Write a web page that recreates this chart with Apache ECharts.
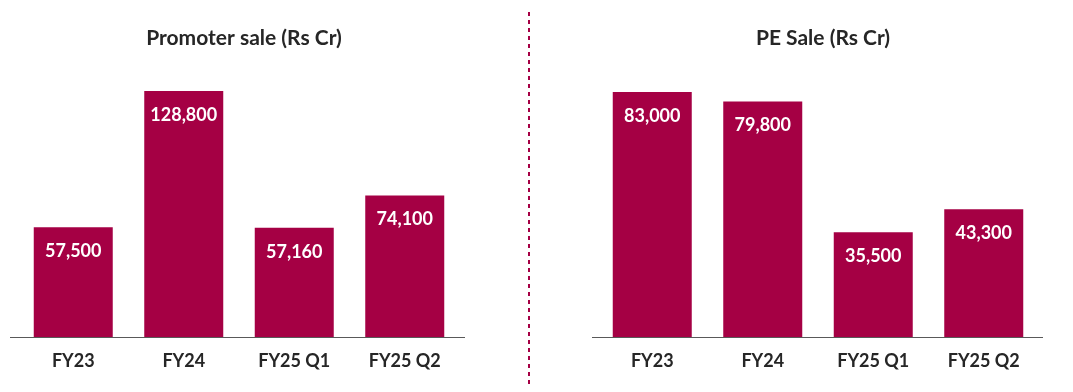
<!DOCTYPE html>
<html>
<head>
<meta charset="utf-8">
<script src="https://cdn.jsdelivr.net/npm/echarts@6/dist/echarts.min.js"></script>
<style>
html,body{margin:0;padding:0;background:#fff;}
#chart{width:1073px;height:392px;}
</style>
</head>
<body>
<div id="chart"></div>
<script>
const categories = ['FY23', 'FY24', 'FY25 Q1', 'FY25 Q2'];
const promoterValues = [57500, 128800, 57160, 74100];
const peValues = [83000, 79800, 35500, 43300];
const titles = ['Promoter sale (Rs Cr)', 'PE Sale (Rs Cr)'];

const BAR = '#A50044';
const TXT = '#262626';
const FONT = 'Lato, "Open Sans", sans-serif';

const chart = echarts.init(document.getElementById('chart'), null, {renderer: 'canvas'});

function xAxis(gi) {
  return {
    type: 'category', gridIndex: gi, data: categories,
    axisLine: {show: false}, axisTick: {show: false},
    axisLabel: {color: TXT, fontFamily: FONT, fontWeight: 'bold', fontSize: 18, margin: 15}
  };
}
function yAxis(gi, max) {
  return {
    type: 'value', gridIndex: gi, min: 0, max: max, show: false,
    splitLine: {show: false}
  };
}
function series(gi, data) {
  return {
    type: 'bar', xAxisIndex: gi, yAxisIndex: gi, data: data,
    barWidth: 79, itemStyle: {color: BAR},
    label: {
      show: true, position: 'insideTop', distance: 15,
      color: '#fff', fontFamily: FONT, fontWeight: 'bold', fontSize: 18,
      formatter: p => p.value.toLocaleString('en-US')
    },
    silent: true
  };
}

chart.setOption({
  animation: false,
  title: [
    {text: titles[0], left: 239, top: 23, textAlign: 'center',
     textStyle: {color: TXT, fontFamily: FONT, fontWeight: 'bold', fontSize: 21}},
    {text: titles[1], left: 818, top: 23, textAlign: 'center',
     textStyle: {color: TXT, fontFamily: FONT, fontWeight: 'bold', fontSize: 21}}
  ],
  grid: [
    {left: 18, width: 442, top: 50.5, height: 286.5},
    {left: 597, width: 442, top: 41.8, height: 295.2}
  ],
  xAxis: [xAxis(0), xAxis(1)],
  yAxis: [yAxis(0, 150000), yAxis(1, 100000)],
  series: [series(0, promoterValues), series(1, peValues)],
  graphic: [
    {type: 'line', shape: {x1: 10, y1: 337.5, x2: 465, y2: 337.5},
     style: {stroke: '#595959', lineWidth: 1}},
    {type: 'line', shape: {x1: 592, y1: 337.5, x2: 1043, y2: 337.5},
     style: {stroke: '#595959', lineWidth: 1}},
    {type: 'line', shape: {x1: 529, y1: 12, x2: 529, y2: 385},
     style: {stroke: BAR, lineWidth: 2, lineDash: [4, 4]}}
  ]
});
</script>
</body>
</html>
